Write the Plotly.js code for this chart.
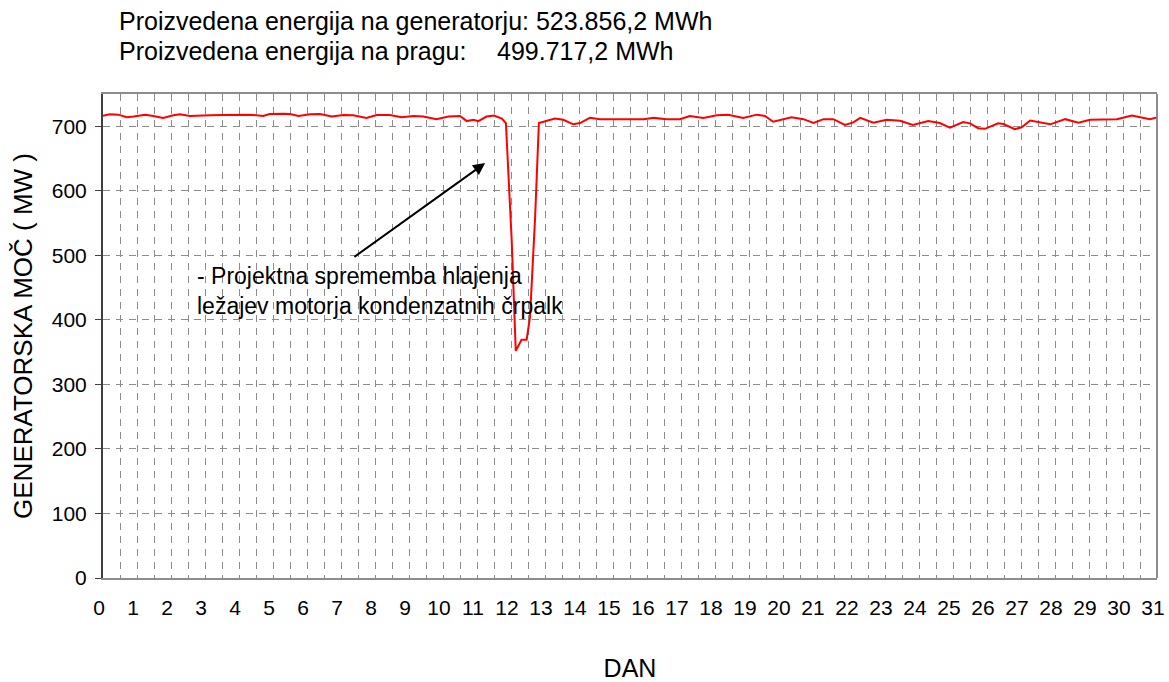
<!DOCTYPE html>
<html>
<head>
<meta charset="utf-8">
<script src="https://cdn.plot.ly/plotly-3.0.1.min.js"></script>
<style>html,body{margin:0;padding:0;background:#fff;}#chart{width:1169px;height:682px;}</style>
</head>
<body>
<div id="chart"></div>
<script>
// Day of month (x) and generator power in MW (y)
const days = [0, 0.2, 0.45, 0.7, 0.9, 1.24, 1.48, 1.77, 2.07, 2.26, 2.56, 2.85, 3.15, 3.54, 3.93, 4.32, 4.71, 4.9, 5.3, 5.5, 5.75, 6.09, 6.38, 6.73, 7.07, 7.36, 7.75, 8.05, 8.44, 8.78, 9.13, 9.42, 9.81, 10.16, 10.5, 10.7, 10.9, 11.04, 11.28, 11.5, 11.73, 11.85, 12.02, 12.14, 12.31, 12.46, 12.56, 12.71, 12.82, 13.05, 13.29, 13.54, 13.83, 14.03, 14.32, 14.62, 14.91, 15.3, 15.6, 15.9, 16.2, 16.58, 16.97, 17.26, 17.66, 18.05, 18.39, 18.83, 19.23, 19.47, 19.71, 19.92, 20.25, 20.6, 20.9, 21.19, 21.48, 21.82, 22.07, 22.27, 22.66, 23.05, 23.44, 23.82, 24.27, 24.61, 24.91, 25.3, 25.5, 25.74, 25.94, 26.33, 26.48, 26.82, 27.02, 27.27, 27.56, 27.86, 28.3, 28.69, 29.03, 29.42, 29.82, 30.26, 30.6, 30.79, 31];
const powerMW = [716.4, 718.5, 718, 714, 715, 718, 716, 713, 717, 718.5, 716, 716, 717, 717.5, 717.5, 718, 716, 719, 719.5, 719, 716, 718.5, 719, 715, 717.5, 717, 713, 717.5, 717.5, 714, 716, 715, 711, 715, 716, 708, 710, 708, 715, 716.5, 712, 705, 524, 352, 369, 369, 405, 560, 705, 709, 712, 710, 703, 705, 713, 711, 711, 712, 712, 711, 713, 711, 711, 716, 713, 717, 718, 713, 718, 716, 707, 710, 714, 711, 705, 711, 711, 702, 706, 713, 705.5, 710, 708.5, 702, 708, 705, 698, 706.5, 704.5, 697, 696, 704.5, 703.5, 695.5, 698.5, 709, 705.5, 703, 711, 705.5, 710, 711, 711, 716.5, 713.5, 711, 713.5];

const xTickVals = [0,1,2,3,4,5,6,7,8,9,10,11,12,13,14,15,16,17,18,19,20,21,22,23,24,25,26,27,28,29,30,31];
const yTickVals = [0,100,200,300,400,500,600,700];

const titleLine1 = "Proizvedena energija na generatorju: 523.856,2 MWh";
const titleLine2Label = "Proizvedena energija na pragu:";
const titleLine2Value = "499.717,2 MWh";
const xTitle = "DAN";
const yTitle = "GENERATORSKA MOČ ( MW )";
const noteText = "- Projektna sprememba hlajenja<br>ležajev motorja kondenzatnih črpalk";
const arrowHead = [11.24, 643];
const arrowTail = [7.35, 496];
const notePos = [2.7, 445];

const FONT = "Arial, 'Liberation Sans', sans-serif";
const GRID = "#8c8c8c";

const trace = {
  x: days, y: powerMW, type: "scatter", mode: "lines",
  line: {color: "#ff0000", width: 2},
  hoverinfo: "skip", showlegend: false
};

const layout = {
  width: 1169, height: 682,
  margin: {l: 103, r: 12, t: 94, b: 104},
  paper_bgcolor: "#ffffff", plot_bgcolor: "#ffffff",
  font: {family: FONT, color: "#000", size: 21},
  showlegend: false,
  xaxis: {
    range: [0, 31], tickvals: xTickVals, ticktext: xTickVals.map(String),
    ticks: "", showgrid: true, gridcolor: GRID, gridwidth: 1, griddash: "7px,6px",
    minor: {dtick: 0.5, tick0: 0, showgrid: true, gridcolor: GRID, gridwidth: 1, griddash: "7px,6px", ticks: ""},
    showline: true, linecolor: "#8c8c8c", linewidth: 2, mirror: true,
    zeroline: false, tickfont: {family: FONT, size: 21, color: "#000"},
    ticklabelstandoff: 10, ticklabelshift: -4,
    title: {text: xTitle, font: {family: FONT, size: 25, color: "#000"}, standoff: 54},
    fixedrange: true
  },
  yaxis: {
    range: [0, 750], tickvals: yTickVals, ticktext: yTickVals.map(String),
    ticks: "outside", ticklen: 6, tickcolor: "#404040", tickwidth: 1,
    showgrid: true, gridcolor: GRID, gridwidth: 1, griddash: "7px,6px",
    showline: true, linecolor: "#404040", linewidth: 2, mirror: false,
    zeroline: false, tickfont: {family: FONT, size: 21, color: "#000"},
    ticklabelstandoff: 4,
    title: {text: yTitle, font: {family: FONT, size: 26, color: "#000"}, standoff: 12},
    fixedrange: true
  },
  shapes: [
    {type: "line", xref: "paper", yref: "paper", x0: 1, x1: 1, y0: 0, y1: 1,
     line: {color: "#8c8c8c", width: 2}}
  ],
  annotations: [
    {xref: "paper", yref: "paper", x: 0.0135, y: 1.151, xanchor: "left", yanchor: "middle",
     text: titleLine1, showarrow: false, font: {family: FONT, size: 25, color: "#000"}},
    {xref: "paper", yref: "paper", x: 0.0135, y: 1.088, xanchor: "left", yanchor: "middle",
     text: titleLine2Label, showarrow: false, font: {family: FONT, size: 25, color: "#000"}},
    {xref: "paper", yref: "paper", x: 0.372, y: 1.088, xanchor: "left", yanchor: "middle",
     text: titleLine2Value, showarrow: false, font: {family: FONT, size: 25, color: "#000"}},
    {xref: "x", yref: "y", x: notePos[0], y: notePos[1], xanchor: "left", yanchor: "middle",
     align: "left", text: noteText, showarrow: false, font: {family: FONT, size: 23, color: "#000"}},
    {xref: "x", yref: "y", x: arrowHead[0], y: arrowHead[1], axref: "x", ayref: "y",
     ax: arrowTail[0], ay: arrowTail[1], text: "", showarrow: true,
     arrowhead: 2, arrowsize: 1.2, arrowwidth: 2, arrowcolor: "#000"}
  ]
};

Plotly.newPlot("chart", [trace], layout, {staticPlot: true, displayModeBar: false});
</script>
</body>
</html>
